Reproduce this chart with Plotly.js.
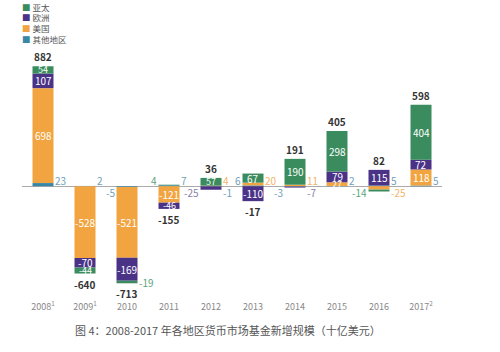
<!DOCTYPE html>
<html><head><meta charset="utf-8">
<script src="https://cdn.plot.ly/plotly-3.0.1.min.js"></script>
<style>html,body{margin:0;padding:0;background:#fff}#c{width:500px;height:352px}</style>
</head><body><div id="c"></div>
<script>
// ---- data ----
const years = ['2008','2009','2010','2011','2012','2013','2014','2015','2016','2017'];
const tickLabels = ['2008<sup>1</sup>','2009<sup>1</sup>','2010','2011','2012','2013','2014','2015','2016','2017<sup>2</sup>'];
const apac   = [54, -44, -19, 4, 57, 67, 190, 298, -14, 404];
const europe = [107, -70, -169, -46, -25, -110, -7, 79, 115, 72];
const us     = [698, -528, -521, -121, 4, 20, 11, 27, -25, 118];
const other  = [23, 2, -5, 7, -1, 6, -3, 2, 5, 5];
const totals = [882, -640, -713, -155, 36, -17, 191, 405, 82, 598];
const seriesNames = ['亚太','欧洲','美国','其他地区'];

const COLORS = {apac:'#3a8c5e', europe:'#4a3287', us:'#f1a43f', other:'#3a86a6'};
const LABELCOL = {apac:'#5aa57a', europe:'#8a80a8', us:'#f3b46a', other:'#6f9fb8'};
// side for small outside labels
const SIDE = {
  other: ['r','r','l','r','r','l','l','r','r','r'],
  apac:  {2:'r',3:'l',8:'l'},
  us:    {4:'r',5:'r',6:'r',8:'r'},
  europe:{4:'l',6:'r'}
};
const FONT = '"Noto Sans CJK SC", "Noto Sans", sans-serif';
const idx = years.map((_, i) => i);

// stacking order (bottom to top): other, us, europe, apac
const stack = [
  {key:'other', name:seriesNames[3], vals:other},
  {key:'us', name:seriesNames[2], vals:us},
  {key:'europe', name:seriesNames[1], vals:europe},
  {key:'apac', name:seriesNames[0], vals:apac}
];

const traces = stack.map(s => ({
  type:'bar', x:idx, y:s.vals, name:s.name, width:0.5,
  marker:{color:COLORS[s.key], line:{width:0}}, hoverinfo:'skip', showlegend:false
}));

const ann = [];
idx.forEach(i => {
  let pos = 0, neg = 0;
  stack.forEach(s => {
    const v = s.vals[i];
    const base = v >= 0 ? pos : neg;
    const mid = base + v/2;
    if (v >= 0) pos += v; else neg += v;
    if (Math.abs(v) >= 27) {
      ann.push({x:i, y:mid, text:String(v), showarrow:false, xanchor:'center', yanchor:'middle',
        font:{family:FONT, size: Math.abs(v) < 60 ? 9 : 10, color:'#ffffff'}});
    } else {
      const sd = Array.isArray(SIDE[s.key]) ? SIDE[s.key][i] : (SIDE[s.key][i] || 'r');
      const nearAxis = Math.abs(mid) < 40;
      ann.push({x:i, y: nearAxis ? 0 : mid, text:String(v), showarrow:false,
        xanchor: sd==='r' ? 'left' : 'right', xshift: sd==='r' ? 10 : -10,
        yanchor:'middle', yshift: nearAxis ? (v >= 0 ? 6 : -6) : 0,
        font:{family:FONT, size:10, color:LABELCOL[s.key]}});
    }
  });
  const t = totals[i];
  ann.push({x:i, y: t >= 0 ? pos : neg, text:String(t), showarrow:false, xanchor:'center',
    yanchor: t >= 0 ? 'bottom' : 'top', yshift: t >= 0 ? 0 : -1,
    font:{family:FONT, size:10, color:'#333333', weight:'bold'}});
});

// manual compact legend
seriesNames.forEach((n,k) => {
  const key = ['apac','europe','us','other'][k];
  ann.push({xref:'paper', yref:'paper', x:-0.005, y:1.212 - k*0.046, xanchor:'left', yanchor:'middle',
    showarrow:false, text:'<span style="color:'+COLORS[key]+'">■</span> '+n,
    font:{family:FONT, size:8.5, color:'#555555'}});
});

// caption
ann.push({xref:'paper', yref:'paper', x:0.49, y:-0.147, xanchor:'center', yanchor:'middle', showarrow:false,
  text:'图 4：2008-2017 年各地区货币市场基金新增规模（十亿美元）',
  font:{family:FONT, size:11, color:'#555555'}});

const layout = {
  width:500, height:352, margin:{l:22, r:58, t:57, b:57},
  paper_bgcolor:'#fff', plot_bgcolor:'#fff',
  barmode:'relative', showlegend:false,
  font:{family:FONT},
  xaxis:{type:'linear', range:[-0.5, 9.5], tickmode:'array', tickvals:idx, ticktext:tickLabels,
    showgrid:false, showline:false, zeroline:false, ticks:'', ticklabelstandoff:5,
    tickfont:{family:FONT, size:9, color:'#888888'}, fixedrange:true},
  yaxis:{type:'linear', range:[-800, 950], showgrid:false, showticklabels:false, ticks:'', showline:false,
    zeroline:true, zerolinecolor:'#aaaaaa', zerolinewidth:1, fixedrange:true},
  annotations: ann
};
Plotly.newPlot('c', traces, layout, {displayModeBar:false, staticPlot:true});
</script></body></html>
